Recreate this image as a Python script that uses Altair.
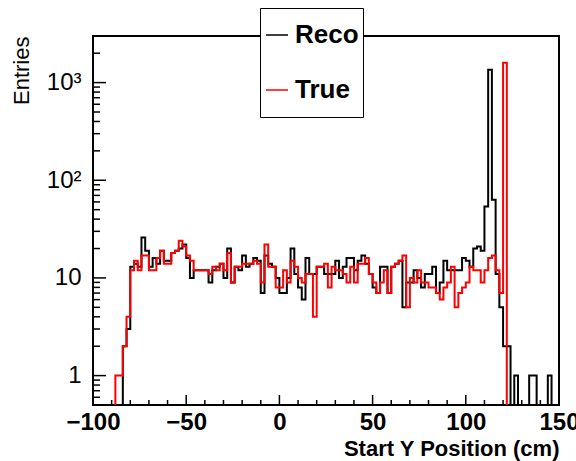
import altair as alt
import pandas as pd

# ---- data -------------------------------------------------------------
x_min = -100
x_max = 150
bin_width = 2

reco_counts = [0, 0, 0, 0, 0, 0, 0, 0, 2, 3,
               13, 14, 13, 26, 19, 13, 16, 14, 19, 15,
               15, 18, 19, 20, 22, 16, 10, 12, 12, 12,
               12, 9, 12, 13, 14, 10, 20, 9, 13, 12,
               17, 13, 14, 16, 15, 7, 17, 14, 13, 10,
               7, 7, 10, 20, 11, 8, 6, 16, 11, 11,
               13, 13, 11, 11, 11, 15, 10, 13, 16, 16,
               12, 15, 17, 14, 11, 8, 7, 13, 13, 7,
               13, 14, 15, 5, 9, 9, 12, 10, 8, 11,
               11, 13, 7, 9, 15, 12, 12, 12, 12, 16,
               15, 13, 20, 21, 19, 54, 1350, 63, 11, 5,
               2, 2, 0, 1, 0, 0, 0, 1, 1, 0,
               0, 0, 1, 0, 0]

true_counts = [0, 0, 0, 0, 0, 0, 1, 1, 2, 4,
               12, 15, 12, 17, 17, 12, 12, 16, 19, 14,
               14, 18, 19, 24, 21, 17, 15, 12, 12, 12,
               12, 11, 13, 12, 14, 12, 18, 9, 13, 13,
               14, 14, 14, 15, 14, 9, 22, 13, 13, 8,
               8, 12, 9, 15, 13, 10, 9, 11, 11, 4,
               13, 13, 14, 8, 13, 12, 12, 11, 9, 13,
               9, 14, 14, 16, 11, 9, 7, 9, 12, 7,
               13, 14, 15, 17, 5, 10, 9, 12, 9, 9,
               8, 8, 7, 6, 8, 9, 13, 5, 7, 8,
               9, 13, 12, 12, 9, 12, 16, 17, 12, 7,
               1600, 0, 0, 0, 0, 0, 0, 0, 0, 0,
               0, 0, 0, 0, 0]

series_names = ["Reco", "True"]
series_colors = ["#000000", "#ff0000"]

x_major_values = [-100, -50, 0, 50, 100, 150]
x_minor_values = [-90, -80, -70, -60, -40, -30, -20, -10, 10, 20, 30, 40,
                  60, 70, 80, 90, 110, 120, 130, 140]
y_major_values = [1, 10, 100, 1000]
y_minor_values = [0.6, 0.7, 0.8, 0.9, 2, 3, 4, 5, 6, 7, 8, 9,
                  20, 30, 40, 50, 60, 70, 80, 90,
                  200, 300, 400, 500, 600, 700, 800, 900, 2000]
y_domain = [0.5, 3000]

# ---- tables ------------------------------------------------------------
rows = []
for name, counts in zip(series_names, [reco_counts, true_counts]):
    for i, c in enumerate(counts):
        rows.append({"series": name, "x": x_min + i * bin_width, "count": c})
    rows.append({"series": name, "x": x_max, "count": counts[-1]})
df = pd.DataFrame(rows)

x_major_df = pd.DataFrame({"v": [v for v in x_major_values if x_min < v < x_max]})
x_minor_df = pd.DataFrame({"v": x_minor_values})
y_major_df = pd.DataFrame({"v": y_major_values})
y_minor_df = pd.DataFrame({"v": y_minor_values})

FONT = "Liberation Sans"
W, H = 466, 369
x_scale = alt.Scale(domain=[x_min, x_max], nice=False, zero=False)
y_scale = alt.Scale(type="log", domain=y_domain, nice=False)

hist = alt.Chart(df).transform_calculate(
    yplot="max(datum.count, 0.1)"
).mark_line(interpolate="step-after", strokeWidth=2, clip=True,
            strokeJoin="miter").encode(
    x=alt.X("x:Q", scale=x_scale,
            axis=alt.Axis(orient="bottom", values=x_major_values, ticks=False,
                          domain=False, grid=False, labelFlush=False,
                          labelFont=FONT, labelFontSize=24,
                          labelFontWeight="bold", labelColor="black",
                          labelPadding=5,
                          title="Start Y Position (cm)", titleFont=FONT,
                          titleFontSize=22, titleFontWeight="bold",
                          titleColor="black", titleAlign="right",
                          titleBaseline="middle", titleX=W, titleY=43)),
    y=alt.Y("yplot:Q", scale=y_scale,
            axis=alt.Axis(orient="left", values=y_major_values, ticks=False,
                          domain=False, grid=False, labelFlush=False,
                          labelFont=FONT, labelFontSize=24,
                          labelColor="black", labelPadding=12,
                          labelExpr="datum.value >= 1000 ? '10³' : datum.value >= 100 ? '10²' : datum.value >= 10 ? '10' : '1'",
                          title="Entries", titleFont=FONT, titleFontSize=22,
                          titleFontWeight="normal", titleColor="black",
                          titleAngle=-90, titleAlign="right",
                          titleBaseline="middle", titleX=-72, titleY=0)),
    color=alt.Color("series:N",
                    scale=alt.Scale(domain=series_names, range=series_colors),
                    legend=alt.Legend(orient="none", legendX=167, legendY=-28,
                                      direction="vertical", title=None,
                                      fillColor="white", strokeColor="black",
                                      padding=4, clipHeight=46, rowPadding=9,
                                      symbolType="stroke",
                                      symbolSize=484, symbolStrokeWidth=1.5,
                                      labelFont=FONT, labelFontSize=26,
                                      labelFontWeight="bold", labelColor="black",
                                      labelOffset=5)),
)

def xticks(data, length):
    return alt.Chart(data).mark_rule(color="black", strokeWidth=1.5).encode(
        x=alt.X("v:Q", scale=x_scale),
        y=alt.value(H),
        y2=alt.value(H - length),
    )

def yticks(data, length):
    return alt.Chart(data).mark_rule(color="black", strokeWidth=1.5).encode(
        y=alt.Y("v:Q", scale=y_scale),
        x=alt.value(0),
        x2=alt.value(length),
    )

chart = alt.layer(
    hist,
    xticks(x_major_df, 10), xticks(x_minor_df, 5),
    yticks(y_major_df, 13), yticks(y_minor_df, 7),
).properties(
    width=W, height=H,
    autosize=alt.AutoSizeParams(type="none"),
    padding={"left": 93, "top": 36, "right": 17, "bottom": 56},
    background="white",
).configure_view(stroke="black", strokeWidth=2)

chart.save("out.html", embed_options={"renderer": "svg", "actions": False})
